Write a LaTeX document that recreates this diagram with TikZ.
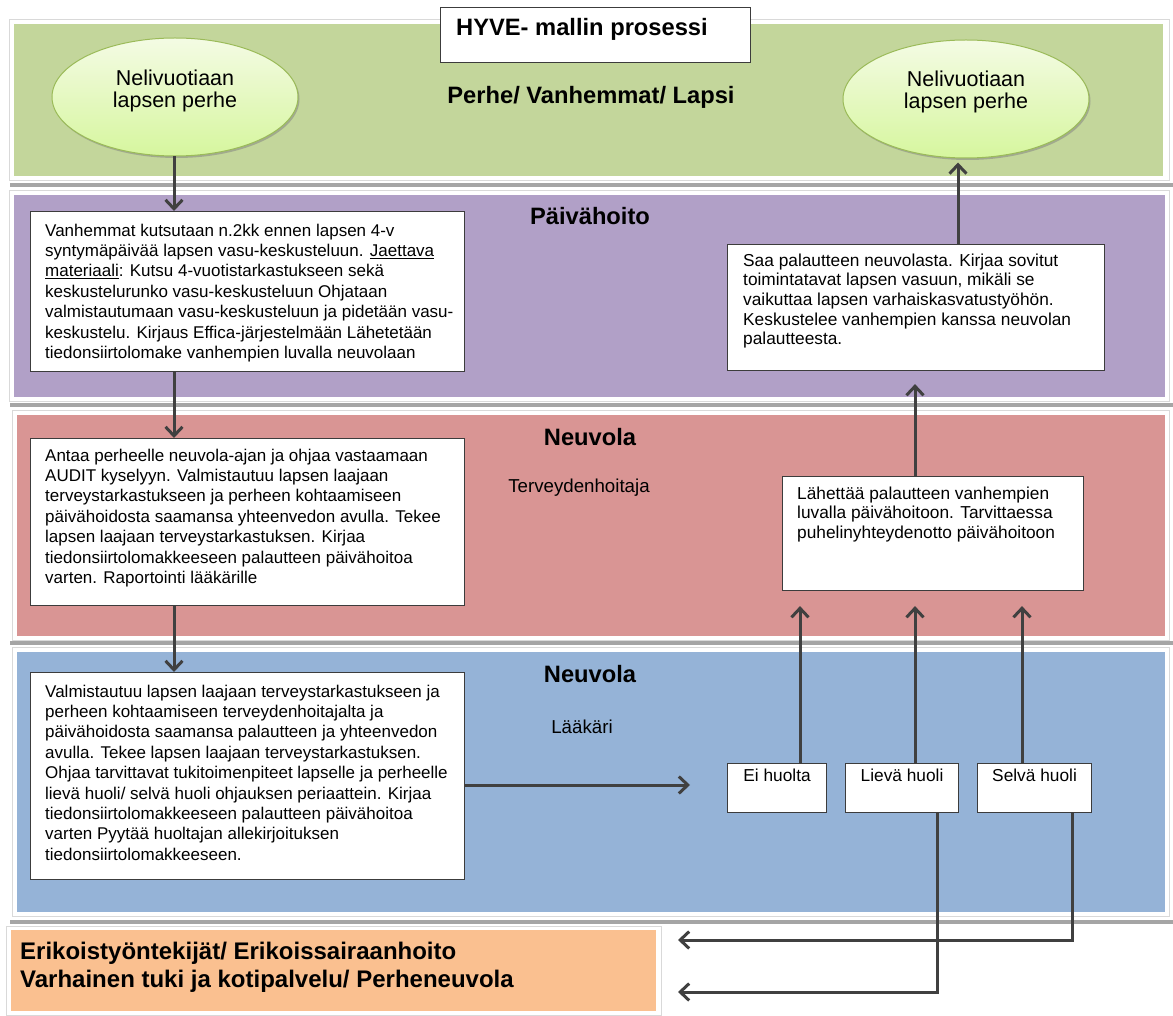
\documentclass[tikz,border=0pt]{standalone}
\usepackage{fontspec}
\setmainfont{Liberation Sans}
\usetikzlibrary{arrows.meta,shadows,calc,shapes.geometric}
\definecolor{lgreen}{RGB}{195,214,155}
\definecolor{lpurple}{RGB}{177,160,199}
\definecolor{lred}{RGB}{217,149,148}
\definecolor{lblue}{RGB}{149,179,215}
\definecolor{lorange}{RGB}{250,192,144}
\definecolor{arr}{RGB}{64,64,64}
\definecolor{ellline}{RGB}{155,187,89}
\definecolor{elltop}{RGB}{244,251,228}
\definecolor{ellbot}{RGB}{214,246,158}
\definecolor{sepc}{RGB}{165,165,165}
\definecolor{boxline}{RGB}{60,60,60}
\begin{document}
\begin{tikzpicture}[x=1pt,y=-1pt,
  frame/.style={draw=gray!30,line width=0.6pt,fill=white},
  sepline/.style={draw=sepc,line width=4pt},
  box/.style={draw=boxline,line width=1.1pt,fill=white,inner sep=0pt,anchor=north west},
  txt/.style={inner sep=0pt,anchor=north west,align=left,font=\fontsize{17}{20.4}\selectfont},
  txtr/.style={txt,font=\fontsize{17.3}{19.6}\selectfont},
  ttl/.style={inner sep=0pt,font=\fontsize{23.7}{27}\selectfont\bfseries},
  sub/.style={inner sep=0pt,font=\fontsize{18.7}{22}\selectfont},
  ell/.style={ellipse,draw=ellline,line width=1pt,top color=elltop,bottom color=ellbot,
     minimum width=246pt,minimum height=118pt,inner sep=0pt,
     drop shadow={shadow xshift=1.5pt,shadow yshift=-2pt,opacity=0.5}},
  elltxt/.style={inner sep=0pt,align=center,font=\fontsize{21.5}{22}\selectfont},
  conn/.style={draw=arr,line width=3pt,-{Straight Barb[length=9pt,width=17pt,line width=3pt]}},
  small/.style={box,minimum height=49pt},
  smalltxt/.style={inner sep=0pt,anchor=base,font=\fontsize{17.3}{20}\selectfont}
]
\useasboundingbox (0,0) rectangle (1173,1016);
\fill[white] (0,0) rectangle (1173,1016);
% lane frames
\draw[frame] (9,19) rectangle (1169,180);
\draw[frame] (9,190) rectangle (1169,401);
\draw[frame] (12,410) rectangle (1169,640);
\draw[frame] (12,647) rectangle (1169,916);
\draw[frame] (6,926) rectangle (661,1015);
% bands
\fill[lgreen] (14,24) rectangle (1163,176);
\fill[lpurple] (14,195) rectangle (1165,397);
\fill[lred] (17,415) rectangle (1165,636);
\fill[lblue] (17,652) rectangle (1165,912);
\fill[lorange] (11,930) rectangle (656,1011);
% separators
\draw[sepline] (10,185) -- (1173,185);
\draw[sepline] (10,405) -- (1173,405);
\draw[sepline] (10,643) -- (1173,643);
\draw[sepline] (10,922) -- (1173,922);
% title
\node[box,minimum width=310pt,minimum height=55pt,line width=0.9pt] (title) at (440,7) {};
\node[ttl,anchor=base west] (titletxt) at (456,36) {HYVE- mallin prosessi};
% lane headings
\node[ttl] (perhe) at (591,97) {Perhe/ Vanhemmat/ Lapsi};
\node[ttl] (paiva) at (590,216) {Päivähoito};
\node[ttl] (neuv1) at (590,437) {Neuvola};
\node[sub] (terv) at (579,488) {Terveydenhoitaja};
\node[ttl] (neuv2) at (590,674) {Neuvola};
\node[sub] (laak) at (582,727) {Lääkäri};
% ellipses
\node[ell] (ell1) at (175,97) {};
\node[elltxt] (ell1t) at ($(ell1.center)+(0,-6)$) {Nelivuotiaan\\lapsen perhe};
\node[ell] (ell2) at (966,99) {};
\node[elltxt] (ell2t) at ($(ell2.center)+(0,-7)$) {Nelivuotiaan\\lapsen perhe};
% boxes
\node[box,minimum width=434pt,minimum height=160pt] (p1) at (30,211) {};
\node[txt] (p1t) at (45,223.5) {Vanhemmat kutsutaan n.2kk ennen lapsen 4-v\\
syntymäpäivää lapsen vasu-keskusteluun. \underline{Jaettava}\\
\underline{materiaali}: Kutsu 4-vuotistarkastukseen sekä\\
keskustelurunko vasu-keskusteluun Ohjataan\\
valmistautumaan vasu-keskusteluun ja pidetään vasu-\\
keskustelu. Kirjaus Effica-järjestelmään Lähetetään\\
tiedonsiirtolomake vanhempien luvalla neuvolaan};
\node[box,minimum width=377pt,minimum height=126pt] (p2) at (727,244) {};
\node[txtr] (p2t) at (743,253.5) {Saa palautteen neuvolasta. Kirjaa sovitut\\
toimintatavat lapsen vasuun, mikäli se\\
vaikuttaa lapsen varhaiskasvatustyöhön.\\
Keskustelee vanhempien kanssa neuvolan\\
palautteesta.};
\node[box,minimum width=434pt,minimum height=167pt] (n1) at (30,438) {};
\node[txt] (n1t) at (45,448.5) {Antaa perheelle neuvola-ajan ja ohjaa vastaamaan\\
AUDIT kyselyyn. Valmistautuu lapsen laajaan\\
terveystarkastukseen ja perheen kohtaamiseen\\
päivähoidosta saamansa yhteenvedon avulla. Tekee\\
lapsen laajaan terveystarkastuksen. Kirjaa\\
tiedonsiirtolomakkeeseen palautteen päivähoitoa\\
varten. Raportointi lääkärille};
\node[box,minimum width=301pt,minimum height=114pt] (n2) at (782,476) {};
\node[txtr] (n2t) at (797,486.5) {Lähettää palautteen vanhempien\\
luvalla päivähoitoon. Tarvittaessa\\
puhelinyhteydenotto päivähoitoon};
\node[box,minimum width=434pt,minimum height=207pt] (l1) at (30,672) {};
\node[txt] (l1t) at (45,684.5) {Valmistautuu lapsen laajaan terveystarkastukseen ja\\
perheen kohtaamiseen terveydenhoitajalta ja\\
päivähoidosta saamansa palautteen ja yhteenvedon\\
avulla. Tekee lapsen laajaan terveystarkastuksen.\\
Ohjaa tarvittavat tukitoimenpiteet lapselle ja perheelle\\
lievä huoli/ selvä huoli ohjauksen periaattein. Kirjaa\\
tiedonsiirtolomakkeeseen palautteen päivähoitoa\\
varten Pyytää huoltajan allekirjoituksen\\
tiedonsiirtolomakkeeseen.};
% small boxes
\node[small,minimum width=99pt] (ei) at (727,763) {};
\node[smalltxt] (eit) at ($(ei.north)+(0,18)$) {Ei huolta};
\node[small,minimum width=113pt] (lieva) at (845,763) {};
\node[smalltxt] (lievat) at ($(lieva.north)+(0,18)$) {Lievä huoli};
\node[small,minimum width=114pt] (selva) at (977,763) {};
\node[smalltxt] (selvat) at ($(selva.north)+(0,18)$) {Selvä huoli};
% orange
\node[inner sep=0pt,anchor=west,align=left,font=\fontsize{24}{28}\selectfont\bfseries] (erik) at (20,967)
  {Erikoistyöntekijät/ Erikoissairaanhoito\\Varhainen tuki ja kotipalvelu/ Perheneuvola};
% connector coordinates
\coordinate (xl) at (174,0);
\coordinate (xa) at (800,0);
\coordinate (xb) at (915,0);
\coordinate (xc) at (1022,0);
\coordinate (xd) at (958,0);
\coordinate (xlb) at (937,0);
\coordinate (xsb) at (1072,0);
\coordinate (lend) at (690,785);
\coordinate (e1) at (678,940);
\coordinate (e2) at (678,992);
% connectors
\draw[conn] (ell1.south -| xl) -- (p1.north -| xl);
\draw[conn] (p1.south -| xl) -- (n1.north -| xl);
\draw[conn] (n1.south -| xl) -- (l1.north -| xl);
\draw[conn] (l1.east |- lend) -- (lend);
\draw[conn] (ei.north -| xa) -- ($(n2.south -| xa)+(0,15)$);
\draw[conn] (lieva.north -| xb) -- ($(n2.south -| xb)+(0,15)$);
\draw[conn] (selva.north -| xc) -- ($(n2.south -| xc)+(0,15)$);
\draw[conn] (n2.north -| xb) -- ($(p2.south -| xb)+(0,13)$);
\draw[conn] (p2.north -| xd) -- ($(ell2.south -| xd)+(0,4)$);
\draw[conn] (lieva.south -| xlb) |- (e2);
\draw[conn] (selva.south -| xsb) |- (e1);
\end{tikzpicture}
\end{document}
